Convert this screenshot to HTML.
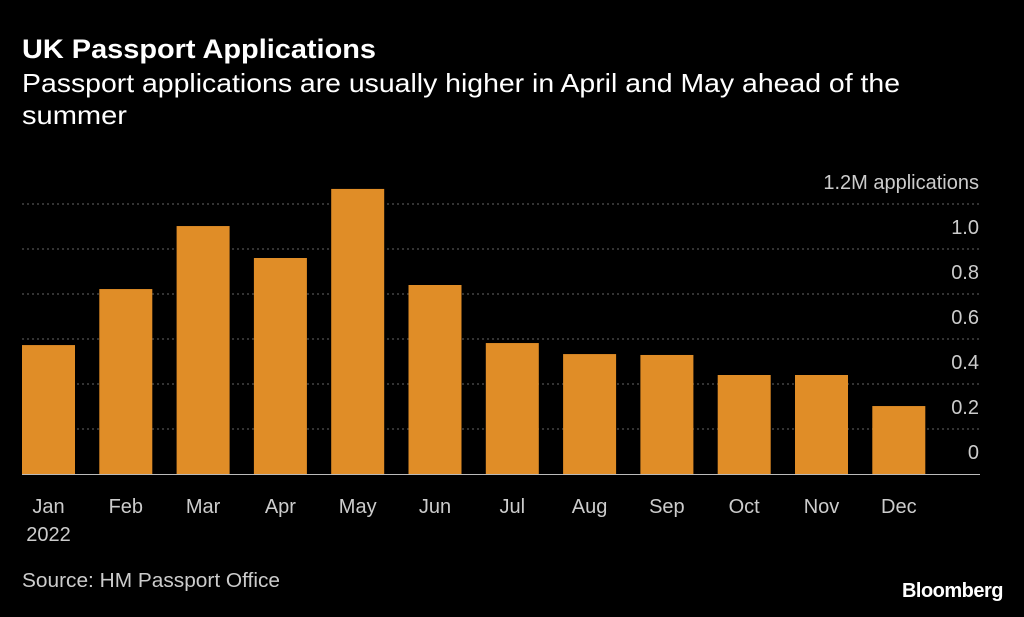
<!DOCTYPE html>
<html><head><meta charset="utf-8"><style>
body{margin:0;background:#000;width:1024px;height:612px;overflow:hidden;font-family:"Liberation Sans",sans-serif;}
</style></head><body>
<svg width="1024" height="612" xmlns="http://www.w3.org/2000/svg">
<rect width="1024" height="612" fill="#000"/>
<text x="22" y="58" fill="#fff" font-size="27" font-weight="bold" textLength="354" lengthAdjust="spacingAndGlyphs">UK Passport Applications</text>
<text x="22" y="92" fill="#fff" font-size="26" textLength="878" lengthAdjust="spacingAndGlyphs">Passport applications are usually higher in April and May ahead of the</text>
<text x="22" y="124" fill="#fff" font-size="26" textLength="105" lengthAdjust="spacingAndGlyphs">summer</text>
<g id="grid"></g>
<g id="bars"></g>
<g id="xlabels"></g>
<text x="22" y="587" fill="#ccc" font-size="20" textLength="258" lengthAdjust="spacingAndGlyphs">Source: HM Passport Office</text>
<text x="1003" y="597" fill="#fff" font-size="20" font-weight="bold" text-anchor="end" letter-spacing="-0.5">Bloomberg</text>
</svg>
<script>
const categories=["Jan","Feb","Mar","Apr","May","Jun","Jul","Aug","Sep","Oct","Nov","Dec"];
const values=[0.573,0.822,1.102,0.96,1.267,0.84,0.582,0.533,0.529,0.44,0.44,0.302];
const ticks=[0,0.2,0.4,0.6,0.8,1.0,1.2];
const tickLabels=["0","0.2","0.4","0.6","0.8","1.0","1.2M applications"];
const NS="http://www.w3.org/2000/svg";
const y0=474,pxPer=225;
const y=v=>y0-v*pxPer;
const x=i=>22+i*77.3;
const bw=53;
const grid=document.getElementById('grid'),bars=document.getElementById('bars'),xl=document.getElementById('xlabels');
ticks.forEach((t,i)=>{
  if(t>0){
    const l=document.createElementNS(NS,'line');
    
    
    l.setAttribute('x1',22);l.setAttribute('x2',980);
    l.setAttribute('y1',y(t));l.setAttribute('y2',y(t));
    l.setAttribute('stroke','#666');l.setAttribute('stroke-dasharray','2,3');l.setAttribute('stroke-width','1');
    grid.appendChild(l);
  }
  const tx=document.createElementNS(NS,'text');
  
  
  tx.setAttribute('x',979);tx.setAttribute('y',y(t)-15);
  tx.setAttribute('text-anchor','end');tx.setAttribute('fill','#ccc');tx.setAttribute('font-size','20');
  tx.textContent=tickLabels[i];
  grid.appendChild(tx);
});
values.forEach((v,i)=>{
  const r=document.createElementNS(NS,'rect');
  
  
  r.setAttribute('x',x(i));r.setAttribute('y',y(v));r.setAttribute('width',bw);r.setAttribute('height',y0-y(v));
  r.setAttribute('fill','#E08D27');
  bars.appendChild(r);
  const t=document.createElementNS(NS,'text');
  
  
  t.setAttribute('x',x(i)+bw/2);t.setAttribute('y',513);t.setAttribute('text-anchor','middle');
  t.setAttribute('fill','#ccc');t.setAttribute('font-size','20');
  t.textContent=categories[i];
  xl.appendChild(t);
});
const yr=document.createElementNS(NS,'text');


yr.setAttribute('x',x(0)+bw/2);yr.setAttribute('y',541);yr.setAttribute('text-anchor','middle');
yr.setAttribute('fill','#ccc');yr.setAttribute('font-size','20');yr.textContent='2022';
xl.appendChild(yr);
const b=document.createElementNS(NS,'line');


b.setAttribute('x1',22);b.setAttribute('x2',980);b.setAttribute('y1',y0+0.5);b.setAttribute('y2',y0+0.5);
b.setAttribute('stroke','#bbb');b.setAttribute('stroke-width','1');
bars.appendChild(b);
</script>
</body></html>
